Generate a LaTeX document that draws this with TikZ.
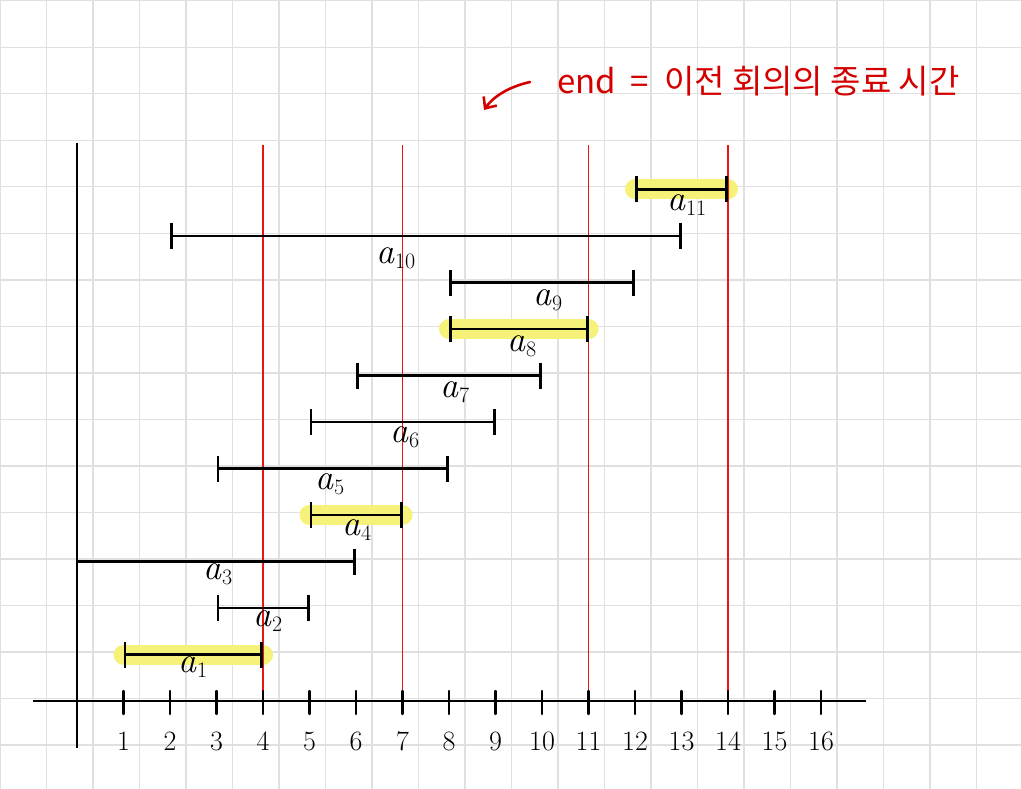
\documentclass[tikz,border=0pt]{standalone}
\usepackage{fontspec}
\newfontfamily\cjk{Noto Sans CJK KR}
\usetikzlibrary{arrows.meta}
\definecolor{gridc}{RGB}{224,224,224}
\definecolor{hlc}{RGB}{246,241,120}
\definecolor{notec}{RGB}{212,0,0}
\definecolor{vred}{RGB}{235,20,20}
\newcommand{\alab}[1]{\textit{a}\raisebox{-0.3ex}{\fontsize{22}{24}\selectfont #1}}
\begin{document}
\begin{tikzpicture}[x=1pt,y=-1pt,
  gridline/.style={draw=gridc, line width=1.4pt},
  axisline/.style={draw=black, line width=2.6pt},
  tickline/.style={draw=black, line width=2.4pt, line cap=round},
  seg/.style={draw=black, line width=2.6pt},
  hl/.style={draw=hlc, line width=20pt, line cap=round},
  redline/.style={draw=vred, line width=1.5pt},
  lab/.style={font=\fontsize{36}{38}\selectfont, inner sep=0pt},
  num/.style={font=\fontsize{28}{30}\selectfont, inner sep=0pt},
  redarrow/.style={draw=notec, line width=2.6pt, line cap=round, -{Straight Barb[length=9pt,width=16pt]}}
]
\useasboundingbox (0,0) rectangle (1021,789);
\fill[white] (0,0) rectangle (1021,789);
% grid
\foreach \i in {0,...,21} \draw[gridline] (\i*46.5,0) -- (\i*46.5,789);
\foreach \j in {0,...,16} \draw[gridline] (0,\j*46.5+0.8) -- (1021,\j*46.5+0.8);
% interval endpoints
\foreach \s/\e/\k in {1/4/1, 3/5/2, 0/6/3, 5/7/4, 3/8/5, 5/9/6, 6/10/7, 8/11/8, 8/12/9, 2/13/10, 12/14/11}{
  \coordinate (s\k) at ({77+46.5*\s}, {701-46.5*\k});
  \coordinate (e\k) at ({77+46.5*\e}, {701-46.5*\k});
}
% highlights
\foreach \k in {1,4,8,11} \draw[hl] (s\k) -- (e\k);
% red end lines
\foreach \n in {4,7,11,14} {
  \coordinate (rt\n) at ({77+46.5*\n},145);
  \coordinate (rb\n) at ({77+46.5*\n},700);
  \draw[redline] (rt\n) -- (rb\n);
}
% intervals
\foreach \k in {1,2,4,5,6,7,8,9,10,11}
  \draw[seg, {Bar[width=26pt,line width=2.8pt]}-{Bar[width=26pt,line width=2.8pt]}] (s\k) -- (e\k);
\draw[seg, -{Bar[width=26pt,line width=2.8pt]}] (s3) -- (e3);
% labels
\foreach \k/\lx/\ly in {1/193/667, 2/268/621, 3/218/574, 4/357/530, 5/330/484, 6/405/437, 7/455/392, 8/522/346, 9/548/300, 10/396/258, 11/687/205}
  \node[lab] (a\k) at (\lx,\ly) {\alab{\k}};
% axes
\coordinate (xl) at (33,701); \coordinate (xr) at (866,701);
\coordinate (yt) at (77,143); \coordinate (yb) at (77,748);
\draw[axisline] (xl) -- (xr);
\draw[axisline] (yt) -- (yb);
% ticks and numbers
\foreach \n in {1,...,16} {
  \coordinate (tt\n) at ({77+46.5*\n},691);
  \coordinate (tb\n) at ({77+46.5*\n},714);
  \draw[tickline] (tt\n) -- (tb\n);
  \node[num] (n\n) at ({77+46.5*\n},741) {\n};
}
% note
\node[anchor=west, text=notec, inner sep=0pt, font=\fontsize{33}{35}\selectfont\cjk] (note) at (557,81) {end\hspace{0.45em}=\hspace{0.45em}이전 회의의 종료 시간};
\coordinate (arrS) at (530,82);
\coordinate (arrE) at (484,110);
\draw[redarrow] (arrS) .. controls (508,87) and (493,97) .. (arrE);
\end{tikzpicture}
\end{document}
